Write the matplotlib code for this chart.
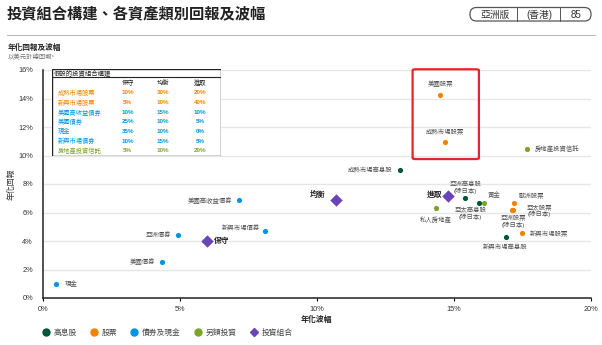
import matplotlib
matplotlib.use('Agg')
import matplotlib.pyplot as plt
from matplotlib.lines import Line2D
from matplotlib.patches import FancyBboxPatch, Rectangle

plt.rcParams['font.family'] = ['Liberation Sans', 'Noto Sans CJK TC']

# Asset data: annualised volatility (%) and return (%)
asset_names = ['現金', '美國債券', '亞洲債券', '美國高收益債券', '新興市場債券',
               '成熟市場高息股', '亞洲高息股\n(除日本)', '亞太高息股\n(除日本)', '新興市場高息股',
               '美國股票', '成熟市場股票', '歐洲股票', '亞太股票\n(除日本)', '亞洲股票\n(除日本)',
               '新興市場股票', '房地產投資信託', '黃金', '私人房地產']
asset_group = ['bond', 'bond', 'bond', 'bond', 'bond',
               'income', 'income', 'income', 'income',
               'equity', 'equity', 'equity', 'equity', 'equity',
               'equity', 'alt', 'alt', 'alt']
asset_vol = [0.5, 4.35, 4.95, 7.15, 8.1,
             13.05, 15.4, 15.93, 16.9,
             14.5, 14.67, 17.2, 17.16, 17.12,
             17.49, 17.66, 16.12, 14.34]
asset_ret = [1.0, 2.55, 4.4, 6.85, 4.7,
             9.0, 7.05, 6.65, 4.3,
             14.25, 10.97, 6.65, 6.18, 6.15,
             4.54, 10.46, 6.69, 6.29]

# Model portfolios
port_names = ['保守', '均衡', '進取']
port_vol = [6.0, 10.69, 14.8]
port_ret = [4.0, 6.88, 7.16]

# Hypothetical allocation table
table_rows = ['成熟市場股票', '新興市場股票', '美國高收益債券', '美國債券', '現金', '新興市場債券', '房地產投資信託']
table_group = ['equity', 'equity', 'bond', 'bond', 'bond', 'bond', 'alt']
alloc_conservative = [10, 5, 10, 25, 35, 10, 5]
alloc_balanced = [30, 10, 15, 10, 10, 15, 10]
alloc_aggressive = [20, 40, 10, 5, 0, 5, 20]

legend_groups = ['income', 'equity', 'bond', 'alt']
legend_labels = ['高息股', '股票', '債券及現金', '另類投資', '投資組合']

colors = {'income': '#00553a', 'equity': '#f08300', 'bond': '#0095e0',
          'alt': '#7ba428', 'port': '#6b45b8'}
text_grey = '#505050'

# label placement: dx, dy (pixels), ha, va
asset_label_pos = {
    '現金': (8, 0, 'left', 'center'),
    '美國債券': (-7, 0, 'right', 'center'),
    '亞洲債券': (-7, 0, 'right', 'center'),
    '美國高收益債券': (-6, 0, 'right', 'center'),
    '新興市場債券': (-5, 3, 'right', 'center'),
    '成熟市場高息股': (-8, 0, 'right', 'center'),
    '亞洲高息股\n(除日本)': (1, 4, 'center', 'bottom'),
    '亞太高息股\n(除日本)': (-9, -4, 'center', 'top'),
    '新興市場高息股': (-1, -11, 'center', 'center'),
    '美國股票': (0, 11, 'center', 'center'),
    '成熟市場股票': (0, 10, 'center', 'center'),
    '歐洲股票': (5, 7, 'left', 'center'),
    '亞太股票\n(除日本)': (14, -1, 'left', 'center'),
    '亞洲股票\n(除日本)': (2, -5, 'center', 'top'),
    '新興市場股票': (8, 0, 'left', 'center'),
    '房地產投資信託': (8, 0, 'left', 'center'),
    '黃金': (3, 8, 'left', 'center'),
    '私人房地產': (0, -11, 'center', 'center'),
}
port_label_pos = {
    '保守': (7, 0, 'left', 'center'),
    '均衡': (-10, 5, 'right', 'center'),
    '進取': (-6, 1, 'right', 'center'),
}

W, H = 602, 345
fig = plt.figure(figsize=(W / 100, H / 100), dpi=100)

# header
fig.text(7 / W, 1 - 15 / H, '投資組合構建、各資產類別回報及波幅', fontsize=11, fontweight='bold',
         color='#222222', ha='left', va='center')
hdr = fig.add_axes([0, 0, 1, 1], zorder=-1)
hdr.set_xlim(0, W)
hdr.set_ylim(H, 0)
hdr.axis('off')
hdr.add_patch(FancyBboxPatch((470, 7.5), 121, 13.5, boxstyle='round,pad=0,rounding_size=6.5',
                             fc='none', ec='#555555', lw=0.9))
hdr.plot([517, 517], [7.5, 21], color='#555555', lw=0.7)
hdr.plot([560, 560], [7.5, 21], color='#555555', lw=0.7)
hdr.text(495, 14.5, '亞洲版', fontsize=7, color='#333333', ha='center', va='center')
hdr.text(539, 14.5, '(香港)', fontsize=7, color='#333333', ha='center', va='center')
hdr.text(576, 14.5, '85', fontsize=7, color='#333333', ha='center', va='center')
hdr.plot([7, 595], [35, 35], color='#bbbbbb', lw=0.8)
fig.text(8 / W, 1 - 48 / H, '年化回報及波幅', fontsize=5.5, fontweight='bold', color='#222222',
         ha='left', va='center')
fig.text(8 / W, 1 - 57 / H, '以美元計總回報*', fontsize=4.6, color='#777777', ha='left', va='center')

# main axes
ax = fig.add_axes([42.7 / W, 1 - 298 / H, 548 / W, 228 / H])
ax.set_xlim(0, 20)
ax.set_ylim(0, 16)
ax.set_xticks([0, 5, 10, 15, 20])
ax.set_xticklabels([f'{t}%' for t in [0, 5, 10, 15, 20]])
ax.set_yticks(range(0, 17, 2))
ax.set_yticklabels([f'{t}%' for t in range(0, 17, 2)])
ax.tick_params(axis='x', length=2.5, width=0.8, labelsize=5.3, labelcolor='#333333', pad=3)
ax.tick_params(axis='y', length=0, labelsize=5.3, labelcolor='#333333', pad=7)
for s in ['top', 'right']:
    ax.spines[s].set_visible(False)
for s in ['left', 'bottom']:
    ax.spines[s].set_color('#222222')
    ax.spines[s].set_linewidth(1.1)
ax.grid(axis='y', color='#e6e6e6', lw=1)
ax.set_axisbelow(True)
ax.set_xlabel('年化波幅', fontsize=5.7, fontweight='bold', color='#222222', labelpad=2)
ax.set_ylabel('年化回報', fontsize=5.7, color='#333333')
ax.yaxis.set_label_coords(-0.05, 0.5)

for name, g, v, r in zip(asset_names, asset_group, asset_vol, asset_ret):
    ax.scatter(v, r, s=14, color=colors[g], zorder=3, linewidths=0)
    dx, dy, ha, va = asset_label_pos[name]
    ax.annotate(name, (v, r), xytext=(dx, dy), textcoords='offset pixels', fontsize=4.6,
                color=text_grey, ha=ha, va=va, linespacing=1.1, multialignment='center')

for name, v, r in zip(port_names, port_vol, port_ret):
    ax.scatter(v, r, s=40, marker='D', color=colors['port'], zorder=4, linewidths=0)
    dx, dy, ha, va = port_label_pos[name]
    ax.annotate(name, (v, r), xytext=(dx, dy), textcoords='offset pixels', fontsize=5.6,
                fontweight='bold', color='#222222', ha=ha, va=va)

# highlight box around the equity outliers
ax.add_patch(FancyBboxPatch((13.5, 9.75), 2.42, 6.3, boxstyle='round,pad=0,rounding_size=0.12',
                            fc='none', ec='#e8242b', lw=1.6, clip_on=False, zorder=5,
                            mutation_aspect=0.5))

# allocation table inset
tx0, ty0, tx1, ty1 = 51.7, 69.3, 221, 155.7
tab = fig.add_axes([tx0 / W, 1 - ty1 / H, (tx1 - tx0) / W, (ty1 - ty0) / H], zorder=6)
tab.set_xlim(0, tx1 - tx0)
tab.set_ylim(ty1 - ty0, 0)
tab.axis('off')
tab.add_patch(Rectangle((0, 0), tx1 - tx0, ty1 - ty0, fc='white', ec='#222222', lw=1.0))
tab.plot([0, tx1 - tx0], [8, 8], color='#222222', lw=0.8)
tab.text(2, 4, '假設的投資組合構建', fontsize=4.6, color='#222222', ha='left', va='center')
col_x = [76, 111, 148.3]
for x, h in zip(col_x, port_names):
    tab.text(x, 13.4, h, fontsize=4.5, color='#222222', ha='center', va='center')
row_y = [23.4, 33.4, 43, 52.4, 61.7, 71.7, 81.4]
for i, (name, g) in enumerate(zip(table_rows, table_group)):
    c = colors[g]
    tab.text(5.6, row_y[i], name, fontsize=4.5, color=c, ha='left', va='center')
    for x, vals in zip(col_x, [alloc_conservative, alloc_balanced, alloc_aggressive]):
        tab.text(x, row_y[i], f'{vals[i]}%', fontsize=4.5, color=c, ha='center', va='center',
                 fontweight='bold')

# legend
handles = [Line2D([], [], marker='o', ls='none', color=colors[g], markersize=5) for g in legend_groups]
handles.append(Line2D([], [], marker='D', ls='none', color=colors['port'], markersize=3.6))
fig.legend(handles, legend_labels, loc='center left', bbox_to_anchor=(38 / W, 1 - 333 / H),
           ncol=5, frameon=False, fontsize=5.6, handlelength=1, handletextpad=0.5,
           columnspacing=1.7, borderpad=0, labelcolor='#444444')

fig.savefig('out.png', dpi=100)
